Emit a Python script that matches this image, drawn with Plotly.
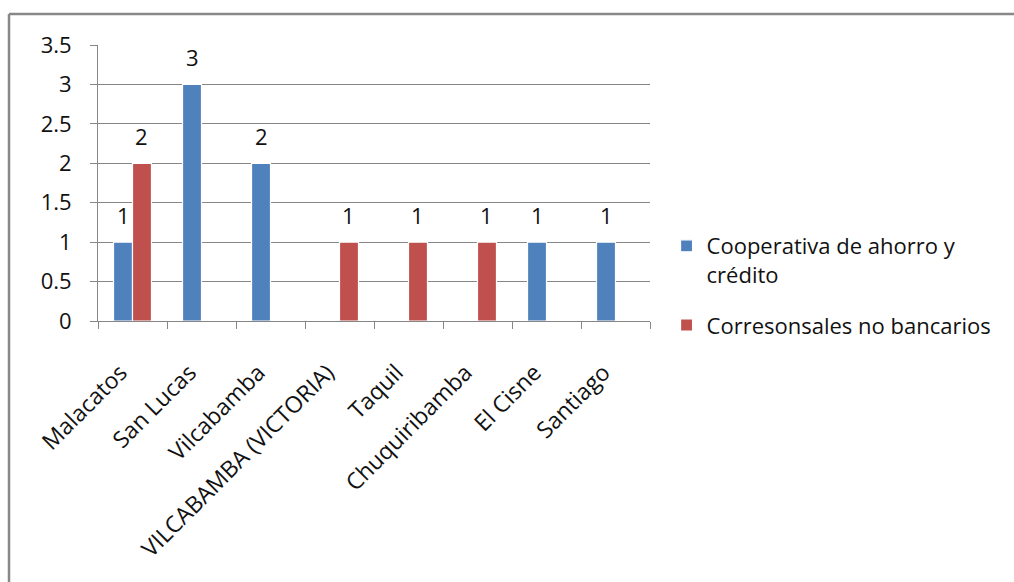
import plotly.graph_objects as go

# Parishes and number of financial access points by type
parroquias = ["Malacatos", "San Lucas", "Vilcabamba", "VILCABAMBA (VICTORIA)",
              "Taquil", "Chuquiribamba", "El Cisne", "Santiago"]
cooperativas = [1, 3, 2, None, None, None, 1, 1]
corresponsales = [2, None, None, 1, 1, 1, None, None]

serie_coop = "Cooperativa de ahorro y<br>crédito"
serie_corr = "Corresonsales no bancarios"

azul = "#4F81BD"
rojo = "#C0504D"
FONT = "Open Sans"
FS = 22

W, H = 1014, 582
margin = dict(l=98, r=W - 650, t=45, b=H - 321)
bargap = 0.45
plot_w = W - margin["l"] - margin["r"]
plot_h = H - margin["t"] - margin["b"]

fig = go.Figure()
for i, (name, vals, color) in enumerate([(serie_coop, cooperativas, azul),
                                         (serie_corr, corresponsales, rojo)]):
    fig.add_trace(go.Bar(
        x=parroquias, y=vals, name=name, legendgroup=f"g{i}",
        marker=dict(color=color, line=dict(color="white", width=1.2)),
    ))

# value labels above each bar
bar_w = plot_w / len(parroquias) * (1 - bargap) / 2
for vals, shift in [(cooperativas, -bar_w / 2), (corresponsales, bar_w / 2)]:
    for cat, v in zip(parroquias, vals):
        if v is None:
            continue
        fig.add_annotation(x=cat, y=v, text=str(v), showarrow=False,
                           xshift=shift, yshift=27, yanchor="middle",
                           font=dict(family=FONT, size=FS, color="#111"))

# chart frame (top and left edges)
fx = -89 / plot_w
fy = 1 + 31 / plot_h
frame = dict(color="#888888", width=2.5)
fig.add_shape(type="line", xref="paper", yref="paper",
              x0=fx, x1=2, y0=fy, y1=fy, line=frame)
fig.add_shape(type="line", xref="paper", yref="paper",
              x0=fx, x1=fx, y0=-3, y1=fy, line=frame)

fig.update_layout(
    width=W, height=H, margin=margin,
    paper_bgcolor="white", plot_bgcolor="white",
    barmode="group", bargap=bargap, bargroupgap=0.0,
    font=dict(family=FONT, size=FS, color="#111"),
    legend=dict(x=1.03, y=(321 - 225) / plot_h, xanchor="left", yanchor="top",
                valign="top",
                font=dict(family=FONT, size=FS, color="#111"),
                itemwidth=30, tracegroupgap=19, bgcolor="rgba(0,0,0,0)"),
    xaxis=dict(tickangle=-45, ticks="outside", tickson="boundaries",
               ticklen=7, tickcolor="#868686", showline=True,
               linecolor="#868686", linewidth=1, showgrid=False,
               ticklabelshift=-12, ticklabelstandoff=28,
               tickfont=dict(family=FONT, size=23, color="#111")),
    yaxis=dict(range=[0, 3.5], dtick=0.5, ticks="outside", ticklen=7,
               tickcolor="#868686", showline=True, linecolor="#868686",
               linewidth=1, gridcolor="#868686", gridwidth=1,
               zeroline=False, ticklabelstandoff=14,
               tickfont=dict(family=FONT, size=FS, color="#111")),
)

fig.write_html("out.html")
